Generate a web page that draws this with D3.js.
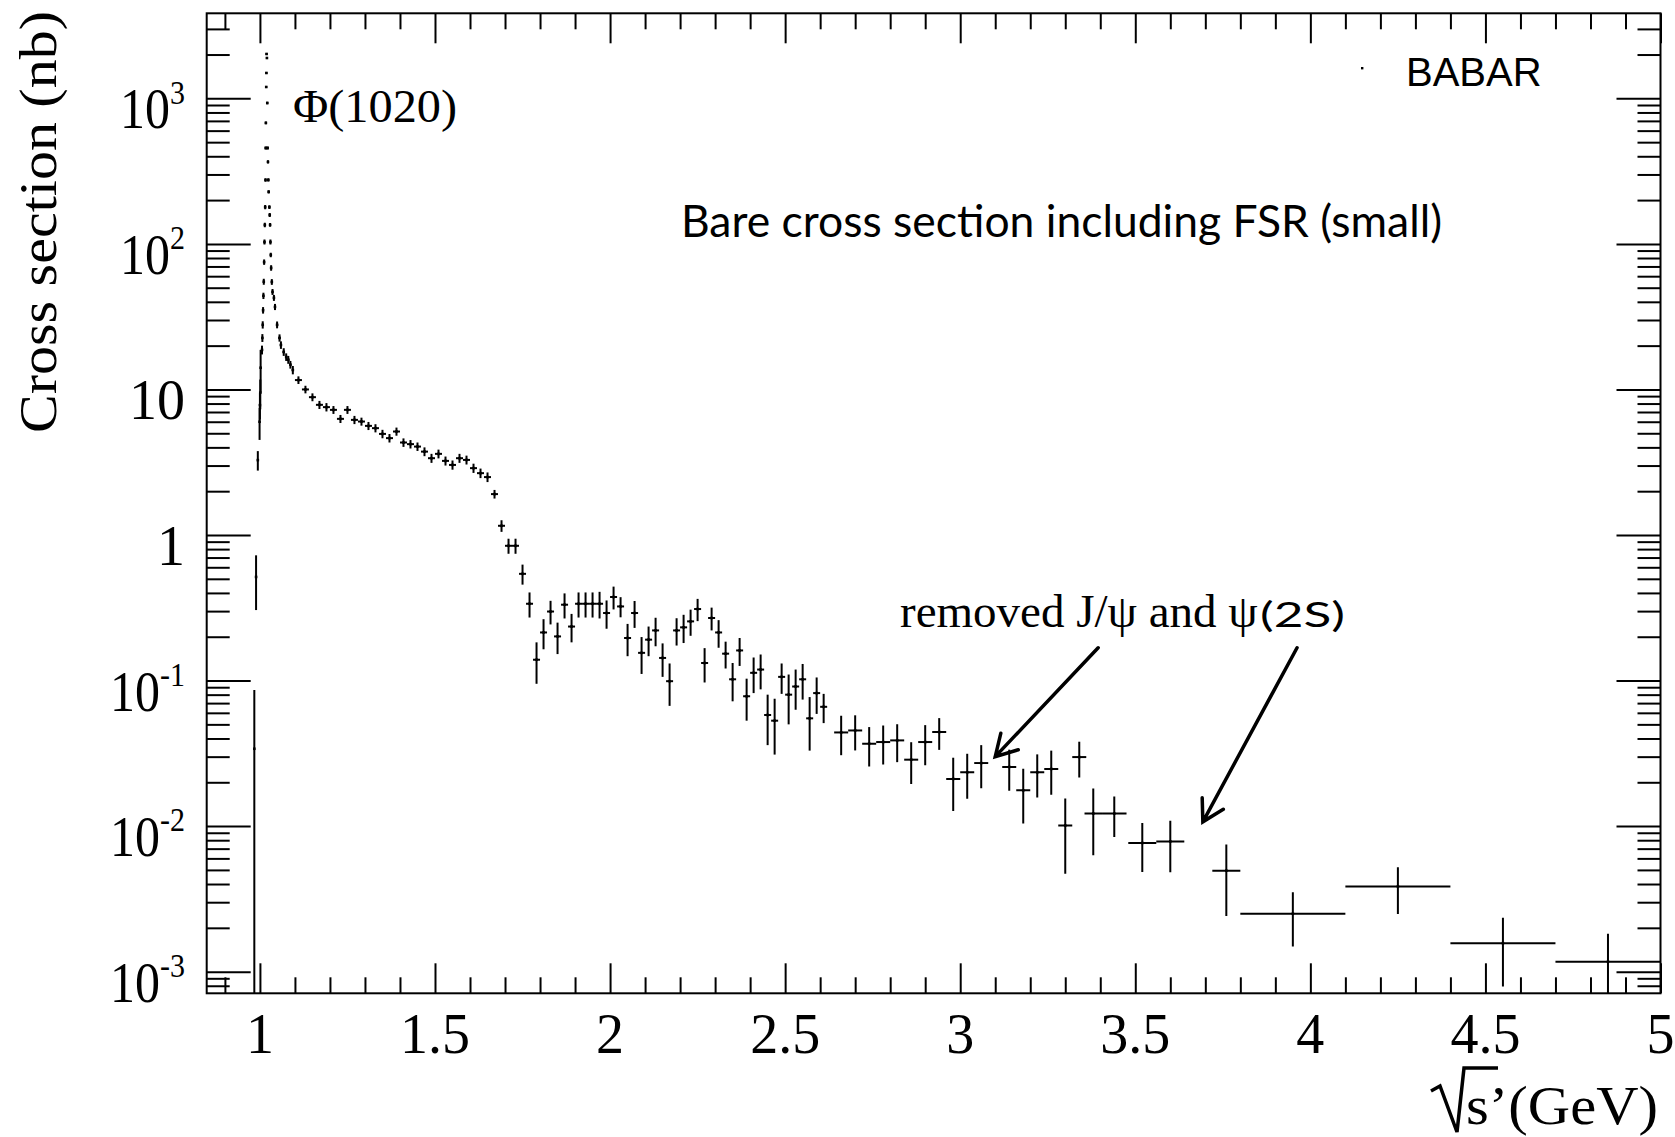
<!DOCTYPE html>
<html>
<head>
<meta charset="utf-8">
<script src="https://cdn.jsdelivr.net/npm/d3@7"></script>
<style>
  html, body { margin: 0; padding: 0; background: #fff; }
  svg { display: block; }
</style>
</head>
<body>
<svg id="chart" width="1675" height="1137"></svg>
<script>
// e+e- -> K+K- bare cross section (nb) versus sqrt(s') (GeV)
const energy = [
  0.984, 0.989, 0.994, 0.999, 1.000, 1.001, 1.002,
  1.006, 1.007, 1.008, 1.009, 1.010, 1.011, 1.012, 1.013, 1.014, 1.015, 1.016, 1.0165, 1.017, 1.018, 1.0185, 1.019,
  1.020, 1.021, 1.022, 1.023, 1.024, 1.025, 1.027, 1.028, 1.029, 1.030, 1.031, 1.032, 1.034, 1.036, 1.040, 1.043,
  1.049, 1.056, 1.060, 1.068, 1.075, 1.081, 1.087, 1.094,
  1.11, 1.13, 1.15, 1.17, 1.19, 1.21, 1.23, 1.25, 1.27, 1.29, 1.31, 1.33, 1.35, 1.37, 1.39,
  1.41, 1.43, 1.45, 1.47, 1.49, 1.51, 1.53, 1.55, 1.57, 1.59, 1.61, 1.63, 1.65, 1.67,
  1.69, 1.71, 1.73, 1.75, 1.77, 1.79, 1.81, 1.83, 1.85, 1.87, 1.89, 1.91, 1.93, 1.95, 1.97, 1.99,
  2.01, 2.03, 2.05, 2.07, 2.09, 2.11, 2.13, 2.15, 2.17, 2.19, 2.21, 2.23, 2.25, 2.27, 2.29,
  2.31, 2.33, 2.35, 2.37, 2.39, 2.41, 2.43, 2.45, 2.47, 2.49, 2.51, 2.53, 2.55, 2.57, 2.59, 2.61,
  2.66, 2.70, 2.74, 2.78, 2.82, 2.86, 2.90, 2.94, 2.98, 3.02, 3.06,
  3.14, 3.18, 3.22, 3.26, 3.30, 3.34, 3.38, 3.44, 3.52, 3.60,
  3.76, 3.95, 4.25, 4.55, 4.85
];

const sigma = [
  0.034, 0.515, 3.27, 6.0, 7.8, 9.5, 14.1,
  18.7, 22.6, 27.8, 35.0, 44.0, 55.0, 75.0, 103, 135, 179, 275, 456, 678, 1197, 1494, 2018,
  1893, 929, 456, 366, 275, 228, 179, 158, 135, 103, 84.0, 68.4, 54.8, 46.8, 42.6, 36.9,
  27.8, 22.6, 20.2, 18.1, 16.7, 16.0, 14.8, 13.6,
  11.6, 10.0, 8.85, 7.84, 7.56, 7.24, 6.28, 7.24, 6.18, 6.02, 5.62, 5.42, 4.95, 4.63, 5.14,
  4.32, 4.21, 4.05, 3.74, 3.37, 3.61, 3.23, 3.03, 3.37, 3.28, 2.88, 2.66, 2.50, 1.91,
  1.157, 0.843, 0.843, 0.541, 0.337, 0.139, 0.214, 0.298, 0.201, 0.332, 0.235, 0.337, 0.337, 0.337, 0.337, 0.291,
  0.375, 0.323, 0.196, 0.291, 0.155, 0.191, 0.221, 0.143, 0.099, 0.221, 0.232, 0.255, 0.310, 0.132, 0.269,
  0.214, 0.153, 0.102, 0.161, 0.078, 0.113, 0.119, 0.058, 0.053, 0.106, 0.080, 0.091, 0.102, 0.055, 0.082, 0.066,
  0.0440, 0.0454, 0.0368, 0.0378, 0.0388, 0.0286, 0.0378, 0.0443, 0.0211, 0.0234, 0.0271,
  0.0255, 0.0176, 0.0234, 0.0247, 0.0101, 0.0298, 0.0122, 0.0122, 0.00766, 0.00785,
  0.00494, 0.00250, 0.00385, 0.00157, 0.00117
];

const sigmaErr = [
  0.052, 0.21, 0.50, 1.5, 1.6, 2.2, 4.6,
  1.3, 1.4, 1.6, 1.8, 2.2, 2.6, 3.2, 4, 5, 6, 8, 10, 14, 20, 25, 30,
  30, 18, 10, 9, 7, 6, 5, 5, 4, 4, 3, 3, 2.5, 2.2, 2.0, 1.8,
  1.5, 1.3, 1.2, 1.1, 1.0, 1.0, 0.9, 0.9,
  0.7, 0.6, 0.55, 0.5, 0.5, 0.45, 0.4, 0.45, 0.4, 0.38, 0.36, 0.35, 0.33, 0.31, 0.33,
  0.29, 0.28, 0.27, 0.26, 0.24, 0.25, 0.23, 0.22, 0.24, 0.23, 0.21, 0.20, 0.19, 0.13,
  0.106, 0.100, 0.100, 0.085, 0.066, 0.044, 0.050, 0.055, 0.049, 0.065, 0.052, 0.066, 0.066, 0.066, 0.070, 0.064,
  0.067, 0.051, 0.049, 0.061, 0.044, 0.044, 0.049, 0.037, 0.032, 0.047, 0.051, 0.052, 0.054, 0.035, 0.048,
  0.046, 0.032, 0.030, 0.035, 0.025, 0.031, 0.032, 0.022, 0.022, 0.025, 0.030, 0.028, 0.028, 0.022, 0.023, 0.015,
  0.0133, 0.0123, 0.0111, 0.0113, 0.0113, 0.0091, 0.0116, 0.0109, 0.0084, 0.0080, 0.0089,
  0.0080, 0.0072, 0.0077, 0.0083, 0.0054, 0.0082, 0.0059, 0.0038, 0.00283, 0.00304,
  0.00253, 0.00101, 0.00136, 0.00078, 0.00065
];

const binHalfWidth = [
  0.0005, 0.0005, 0.0005, 0.0005, 0.0005, 0.0005, 0.0005,
  0.0005, 0.0005, 0.0005, 0.0005, 0.0005, 0.0005, 0.0005, 0.0005, 0.0005, 0.0005, 0.0005, 0.0005, 0.0005, 0.0005, 0.0005, 0.0005,
  0.0005, 0.0005, 0.0005, 0.0005, 0.0005, 0.0005, 0.0005, 0.0005, 0.0005, 0.0005, 0.0005, 0.0005, 0.001, 0.001, 0.0015, 0.0015,
  0.003, 0.003, 0.003, 0.003, 0.003, 0.003, 0.003, 0.003,
  0.01, 0.01, 0.01, 0.01, 0.01, 0.01, 0.01, 0.01, 0.01, 0.01, 0.01, 0.01, 0.01, 0.01, 0.01,
  0.01, 0.01, 0.01, 0.01, 0.01, 0.01, 0.01, 0.01, 0.01, 0.01, 0.01, 0.01, 0.01, 0.01,
  0.01, 0.01, 0.01, 0.01, 0.01, 0.01, 0.01, 0.01, 0.01, 0.01, 0.01, 0.01, 0.01, 0.01, 0.01, 0.01,
  0.01, 0.01, 0.01, 0.01, 0.01, 0.01, 0.01, 0.01, 0.01, 0.01, 0.01, 0.01, 0.01, 0.01, 0.01,
  0.01, 0.01, 0.01, 0.01, 0.01, 0.01, 0.01, 0.01, 0.01, 0.01, 0.01, 0.01, 0.01, 0.01, 0.01, 0.01,
  0.02, 0.02, 0.02, 0.02, 0.02, 0.02, 0.02, 0.02, 0.02, 0.02, 0.02,
  0.02, 0.02, 0.02, 0.02, 0.02, 0.02, 0.025, 0.035, 0.04, 0.04,
  0.04, 0.15, 0.15, 0.15, 0.15
];

// axis ticks and labels
const xTickValues = [1, 1.5, 2, 2.5, 3, 3.5, 4, 4.5, 5];
const xTickLabels = ["1", "1.5", "2", "2.5", "3", "3.5", "4", "4.5", "5"];
const yTickValues = [1e-3, 1e-2, 1e-1, 1, 10, 1e2, 1e3];
const yTickBase = ["10", "10", "10", "1", "10", "10", "10"];
const yTickExp = ["-3", "-2", "-1", "", "", "2", "3"];

const serif = "'Liberation Serif', 'Times New Roman', serif";
const sans = "'Liberation Sans', Arial, sans-serif";
const calibriLike = "Lato, 'Open Sans', sans-serif";

const svg = d3.select("#chart");
const frame = { left: 206.7, right: 1660.5, top: 13.3, bottom: 993.3 };

const x = d3.scaleLinear().domain([0.848, 5.0]).range([frame.left, frame.right]);
const y = d3.scaleLog().domain([7.1e-4, 3840]).range([frame.bottom, frame.top]).clamp(true);

svg.append("rect").attr("width", 1675).attr("height", 1137).attr("fill", "#fff");

svg.append("defs").append("clipPath").attr("id", "plotClip")
  .append("rect")
  .attr("x", frame.left).attr("y", frame.top)
  .attr("width", frame.right - frame.left).attr("height", frame.bottom - frame.top);

// ---- ticks (ROOT style, drawn inward on all four sides) ----
const xMinor = d3.range(9, 50).map(k => k / 10).filter(v => Math.abs(v * 2 - Math.round(v * 2)) > 1e-6);
const yMinor = [];
for (let k = -4; k <= 3; k++) for (let m = 2; m <= 9; m++) {
  const v = m * Math.pow(10, k);
  if (v > y.domain()[0] && v < y.domain()[1]) yMinor.push(v);
}

function tickAxis(axis, values, size, transform) {
  const g = svg.append("g").attr("transform", transform)
    .call(axis.tickValues(values).tickSizeInner(-size).tickSizeOuter(0).tickFormat(""));
  g.select(".domain").remove();
  g.selectAll(".tick line").attr("stroke", "#000").attr("stroke-width", 2);
  g.selectAll(".tick text").remove();
}
tickAxis(d3.axisBottom(x), xTickValues, 30, `translate(0,${frame.bottom})`);
tickAxis(d3.axisBottom(x), xMinor, 16, `translate(0,${frame.bottom})`);
tickAxis(d3.axisTop(x), xTickValues, 30, `translate(0,${frame.top})`);
tickAxis(d3.axisTop(x), xMinor, 16, `translate(0,${frame.top})`);
tickAxis(d3.axisLeft(y), yTickValues, 44, `translate(${frame.left},0)`);
tickAxis(d3.axisLeft(y), yMinor, 23, `translate(${frame.left},0)`);
tickAxis(d3.axisRight(y), yTickValues, 44, `translate(${frame.right},0)`);
tickAxis(d3.axisRight(y), yMinor, 23, `translate(${frame.right},0)`);

// frame
svg.append("rect")
  .attr("x", frame.left).attr("y", frame.top)
  .attr("width", frame.right - frame.left).attr("height", frame.bottom - frame.top)
  .attr("fill", "none").attr("stroke", "#000").attr("stroke-width", 2);

// ---- tick labels ----
svg.append("g").selectAll("text").data(xTickValues).join("text")
  .attr("x", d => x(d)).attr("y", frame.bottom + 60)
  .attr("text-anchor", "middle")
  .attr("font-family", serif).attr("font-size", 56).attr("fill", "#000")
  .text((d, i) => xTickLabels[i]);

// y labels: powers of ten as one text element with a raised exponent
const yl = svg.append("g");
yTickValues.forEach((v, i) => {
  const ty = y(v);
  if (yTickExp[i]) {
    const t = yl.append("text")
      .attr("transform", `translate(185,${ty + 30}) scale(1,1.12)`)
      .attr("text-anchor", "end").attr("font-family", serif).attr("font-size", 50);
    t.append("tspan").text(yTickBase[i]);
    t.append("tspan").attr("dy", -22).attr("font-size", 30).text(yTickExp[i]);
  } else {
    yl.append("text").attr("x", 185).attr("y", ty + 30)
      .attr("text-anchor", "end").attr("font-family", serif).attr("font-size", 56)
      .text(yTickBase[i]);
  }
});

// axis titles
svg.append("text")
  .attr("transform", "translate(56,222) rotate(-90)")
  .attr("text-anchor", "middle")
  .attr("font-family", serif).attr("font-size", 53)
  .attr("textLength", 422).attr("lengthAdjust", "spacingAndGlyphs")
  .text("Cross section (nb)");

svg.append("path")
  .attr("d", "M1431,1091 L1440,1086 L1457,1132 L1464,1068 L1498,1068")
  .attr("fill", "none").attr("stroke", "#000").attr("stroke-width", 3.5)
  .attr("stroke-linejoin", "miter");
svg.append("text")
  .attr("x", 1466).attr("y", 1124)
  .attr("font-family", serif).attr("font-size", 54)
  .attr("textLength", 192).attr("lengthAdjust", "spacingAndGlyphs")
  .text("s\u2019(GeV)");

// ---- data points with error bars ----
const pts = energy.map((e, i) => ({ x: e, v: sigma[i], dv: sigmaErr[i], dx: binHalfWidth[i] }));
const gData = svg.append("g").attr("clip-path", "url(#plotClip)")
  .attr("stroke", "#000").attr("stroke-width", 2);

gData.selectAll("line.ey").data(pts).join("line").attr("class", "ey")
  .attr("x1", d => x(d.x)).attr("x2", d => x(d.x))
  .attr("y1", d => y(Math.max(d.v - d.dv, 1e-9)))
  .attr("y2", d => y(d.v + d.dv));

gData.selectAll("line.ex").data(pts).join("line").attr("class", "ex")
  .attr("x1", d => x(d.x - d.dx)).attr("x2", d => x(d.x + d.dx))
  .attr("y1", d => y(d.v)).attr("y2", d => y(d.v));

gData.selectAll("rect.pt").data(pts).join("rect").attr("class", "pt")
  .attr("x", d => x(d.x) - 1.3).attr("y", d => y(d.v) - 1.3)
  .attr("width", 2.6).attr("height", 2.6)
  .attr("stroke", "none").attr("fill", "#000");

// ---- annotations ----
svg.append("text").attr("x", 293).attr("y", 122)
  .attr("font-family", serif).attr("font-size", 46)
  .attr("textLength", 164).attr("lengthAdjust", "spacingAndGlyphs")
  .text("\u03A6(1020)");

svg.append("text").attr("x", 681).attr("y", 237)
  .attr("font-family", calibriLike).attr("font-size", 44)
  .attr("textLength", 761).attr("lengthAdjust", "spacingAndGlyphs")
  .text("Bare cross section including FSR (small)");

svg.append("text").attr("x", 900).attr("y", 627)
  .attr("font-family", serif).attr("font-size", 47)
  .text("removed J/\u03C8 and \u03C8");
svg.append("text").attr("x", 1260).attr("y", 627)
  .attr("font-family", calibriLike).attr("font-size", 34)
  .attr("textLength", 85).attr("lengthAdjust", "spacingAndGlyphs")
  .text("(2S)");

// legend
svg.append("rect").attr("x", 1361).attr("y", 67).attr("width", 2.4).attr("height", 2.4).attr("fill", "#000");
svg.append("text").attr("x", 1406).attr("y", 86)
  .attr("font-family", sans).attr("font-size", 40)
  .text("BABAR");

// arrows pointing at the removed resonance regions
const arrowNotes = [
  { from: [3.394, 0.168], to: [3.100, 0.0300] },
  { from: [3.962, 0.168], to: [3.693, 0.0107] }
];
arrowNotes.forEach(a => {
  const x0 = x(a.from[0]), y0 = y(a.from[1]);
  const x1 = x(a.to[0]), y1 = y(a.to[1]);
  const ang = Math.atan2(y1 - y0, x1 - x0);
  const L = 24, w = Math.PI / 6;
  const w1 = [x1 - L * Math.cos(ang - w), y1 - L * Math.sin(ang - w)];
  const w2 = [x1 - L * Math.cos(ang + w), y1 - L * Math.sin(ang + w)];
  svg.append("path")
    .attr("d", `M${x0},${y0}L${x1},${y1}M${w1[0]},${w1[1]}L${x1},${y1}L${w2[0]},${w2[1]}`)
    .attr("fill", "none").attr("stroke", "#000").attr("stroke-width", 3.5)
    .attr("stroke-linecap", "round").attr("stroke-linejoin", "miter");
});
</script>
</body>
</html>
